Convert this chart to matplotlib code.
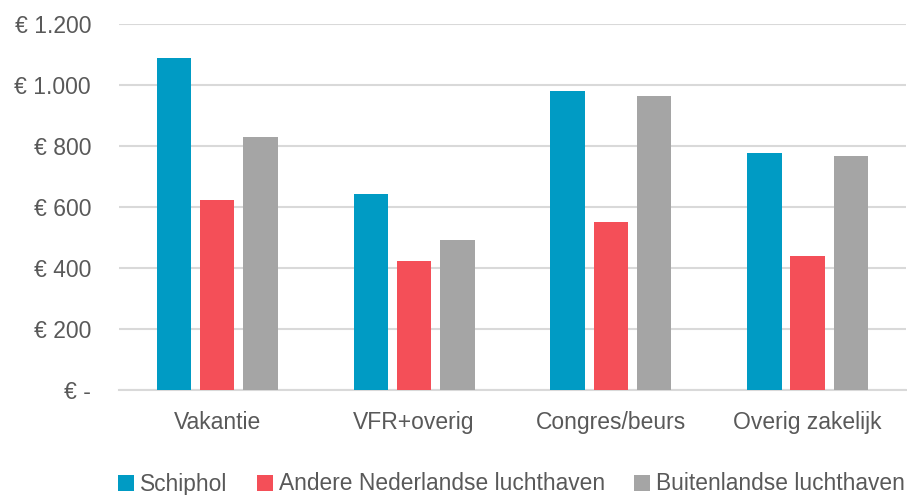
import numpy as np
import matplotlib
matplotlib.use("Agg")
import matplotlib.pyplot as plt
from matplotlib.ticker import FuncFormatter

# gegevens
categorieen = ["Vakantie", "VFR+overig", "Congres/beurs", "Overig zakelijk"]
schiphol = [1087, 644, 980, 777]
andere_nl = [622, 422, 552, 439]
buitenland = [828, 491, 965, 766]

series = ["Schiphol", "Andere Nederlandse luchthaven", "Buitenlandse luchthaven"]
kleuren = ["#009BC4", "#F44F58", "#A5A5A5"]

plt.rcParams['font.family'] = ['Liberation Sans', 'DejaVu Sans']

fig = plt.figure(figsize=(9.07, 4.95), dpi=100)
ax = fig.add_axes([0.131, 0.212, 0.868, 0.7395])

x = np.arange(len(categorieen))
breedte = 0.175
stap = 0.22
for i, (waarden, naam, kleur) in enumerate(zip([schiphol, andere_nl, buitenland], series, kleuren)):
    ax.bar(x + (i - 1) * stap, waarden, breedte, color=kleur, label=naam, zorder=3)

ax.set_xlim(-0.5, len(categorieen) - 0.5)
ax.set_ylim(0, 1200)
ax.set_yticks(range(0, 1201, 200))


def euro(v, pos):
    if v == 0:
        return "€ -"
    return "€ " + f"{int(v):,}".replace(",", ".")


ax.yaxis.set_major_formatter(FuncFormatter(euro))
ax.set_xticks(x)
ax.set_xticklabels(categorieen)

ax.grid(axis='y', color='#D9D9D9', linewidth=1.5, zorder=0)
for s in ['top', 'right', 'left']:
    ax.spines[s].set_visible(False)
ax.spines['bottom'].set_color('#D9D9D9')
ax.spines['bottom'].set_linewidth(1.5)
ax.tick_params(axis='both', length=0, labelsize=16.5, labelcolor='#595959')
ax.tick_params(axis='y', pad=20)
ax.tick_params(axis='x', pad=15)

fig.legend(loc='center', bbox_to_anchor=(0.564, 1 - 484 / 495), ncol=3, frameon=False,
           prop={'size': 16.4}, labelcolor='#595959',
           handlelength=0.7, handleheight=0.7,
           handletextpad=0.25, columnspacing=1.3)

fig.savefig("out.png", dpi=100)
